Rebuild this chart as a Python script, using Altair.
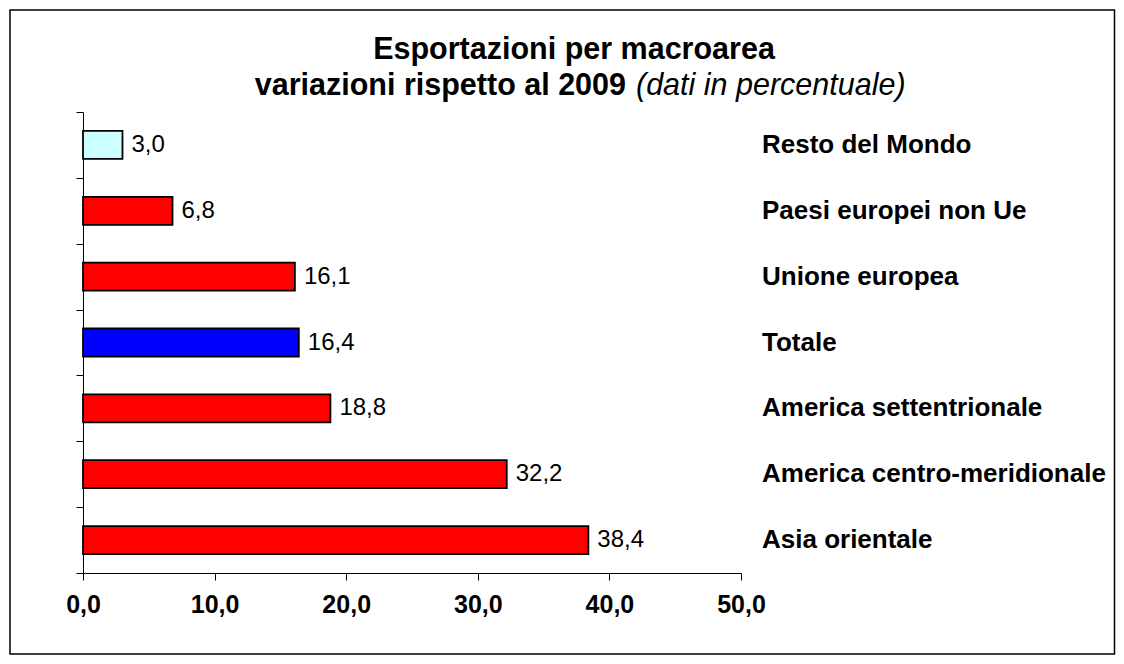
import altair as alt
import pandas as pd

categories = ["Resto del Mondo", "Paesi europei non Ue", "Unione europea", "Totale",
              "America settentrionale", "America centro-meridionale", "Asia orientale"]
values = [3.0, 6.8, 16.1, 16.4, 18.8, 32.2, 38.4]
colors = ["#CCFFFF", "#FF0000", "#FF0000", "#0000FF", "#FF0000", "#FF0000", "#FF0000"]
x_ticks = [0, 10, 20, 30, 40, 50]

df = pd.DataFrame({"cat": categories, "val": values, "col": colors})
df["lab"] = [f"{v:.1f}".replace(".", ",") for v in values]

FONT = "Liberation Sans"
W, H = 658, 461

y_enc = alt.Y("cat:N", sort=categories, title=None,
              scale=alt.Scale(paddingInner=0.0, paddingOuter=0.0),
              axis=alt.Axis(labels=False, tickBand="extent", tickSize=7, tickColor="black",
                            domainColor="black", ticks=True, grid=False, domainWidth=1))
x_enc = alt.X("val:Q", title=None,
              scale=alt.Scale(domain=[0, 50], nice=False),
              axis=alt.Axis(values=x_ticks, tickSize=7, tickColor="black", domainColor="black",
                            grid=False, labelFont=FONT, labelFontSize=25, labelFontWeight="bold",
                            labelColor="black", labelPadding=12, labelFlush=False,
                            labelExpr="replace(format(datum.value, '.1f'), '.', ',')"))

bars = alt.Chart(df).mark_bar(size=28, stroke="black", strokeWidth=1.8).encode(
    x=x_enc, y=y_enc, fill=alt.Fill("col:N", scale=None))

vals = alt.Chart(df).mark_text(align="left", baseline="middle", dx=9, font=FONT,
                               fontSize=24, color="black").encode(
    x="val:Q", y=alt.Y("cat:N", sort=categories), text="lab:N")

names = alt.Chart(df).mark_text(align="left", baseline="middle", font=FONT, fontSize=26,
                                fontWeight="bold", color="black").encode(
    x=alt.value(679), y=alt.Y("cat:N", sort=categories), text="cat:N")

title_df = pd.DataFrame({"t": ["x"]})
t1 = alt.Chart(title_df).mark_text(align="center", baseline="middle", font=FONT, fontSize=30.5,
                                   fontWeight="bold", color="black").encode(
    x=alt.value(491), y=alt.value(-62), text=alt.value("Esportazioni per macroarea"))
t2a = alt.Chart(title_df).mark_text(align="right", baseline="middle", font=FONT, fontSize=30.5,
                                    fontWeight="bold", color="black").encode(
    x=alt.value(543), y=alt.value(-26), text=alt.value("variazioni rispetto al 2009"))
t2b = alt.Chart(title_df).mark_text(align="left", baseline="middle", font=FONT, fontSize=30.5,
                                    fontStyle="italic", color="black").encode(
    x=alt.value(553), y=alt.value(-26), text=alt.value("(dati in percentuale)"))

frame = alt.Chart(title_df).mark_rect(fill="transparent", stroke="black", strokeWidth=1.5,
                                      clip=False).encode(
    x=alt.value(-73), x2=alt.value(1031.5), y=alt.value(-102), y2=alt.value(542))

chart = alt.layer(frame, bars, vals, names, t1, t2a, t2b).properties(
    width=W, height=H,
    autosize=alt.AutoSizeParams(type="none"),
    padding={"left": 75, "top": 104, "right": 375, "bottom": 83},
).configure(background="white").configure_view(strokeWidth=0, stroke="transparent")

chart.save("out.html", embed_options={"renderer": "svg", "actions": False})
